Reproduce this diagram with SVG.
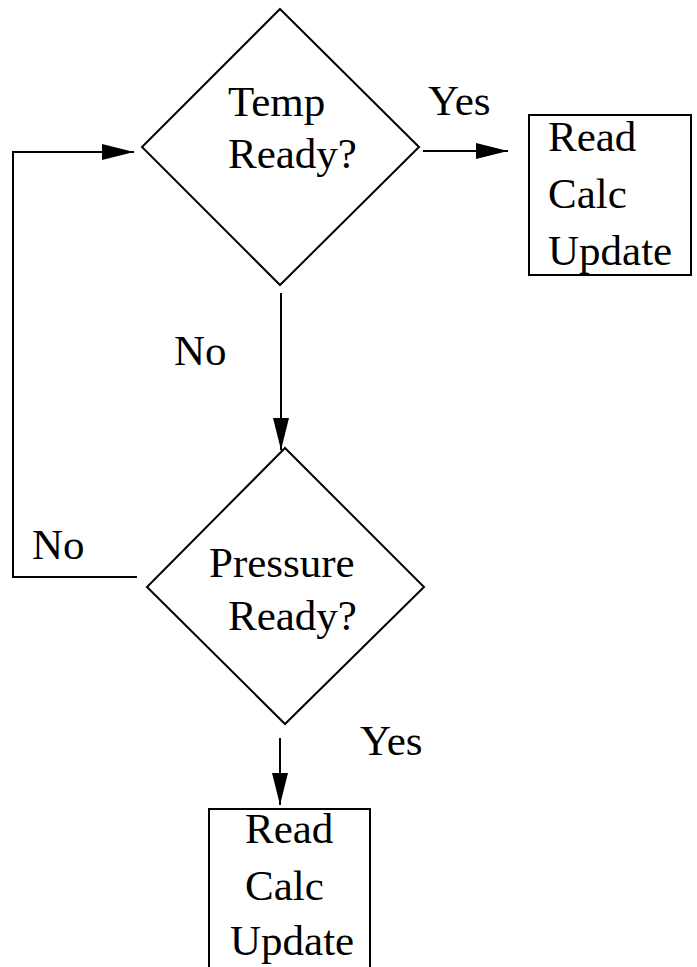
<svg xmlns="http://www.w3.org/2000/svg" width="697" height="967" viewBox="0 0 697 967">
<style>
.s{fill:none;stroke:#000;stroke-width:2}
.t{font-family:'Liberation Serif','Times New Roman',Times,serif;font-size:43px;fill:#000}
</style>
<defs>
<marker id="ah" markerWidth="32" markerHeight="16" refX="32" refY="8" orient="auto" markerUnits="userSpaceOnUse">
<path d="M0,0 L32,8 L0,16 z" fill="#000"/>
</marker>
</defs>
<rect width="697" height="967" fill="#fff"/>
<g id="temp">
<polygon class="s" points="280,9 419,147 280,285 142,147"/>
<text class="t" x="228" y="116">Temp</text>
<text class="t" x="228" y="168">Ready?</text>
</g>
<g id="action1">
<rect class="s" x="529" y="115" width="162" height="160"/>
<text class="t" x="548" y="151">Read</text>
<text class="t" x="548" y="208">Calc</text>
<text class="t" x="548" y="265">Update</text>
</g>
<g id="pressure">
<polygon class="s" points="285,448 424,587 285,724 147,587"/>
<text class="t" x="209" y="577">Pressure</text>
<text class="t" x="228" y="630">Ready?</text>
</g>
<g id="action2">
<rect class="s" x="209" y="809" width="161" height="170"/>
<text class="t" x="245" y="843">Read</text>
<text class="t" x="245" y="900">Calc</text>
<text class="t" x="230" y="955">Update</text>
</g>
<g id="connectors">
<line class="s" x1="423" y1="151" x2="508" y2="151" marker-end="url(#ah)"/>
<line class="s" x1="281" y1="293" x2="281" y2="450" marker-end="url(#ah)"/>
<polyline class="s" points="137,577 13,577 13,152 134,152" marker-end="url(#ah)"/>
<line class="s" x1="280" y1="738" x2="280" y2="805" marker-end="url(#ah)"/>
<text class="t" x="428" y="115">Yes</text>
<text class="t" x="174" y="365">No</text>
<text class="t" x="32" y="559">No</text>
<text class="t" x="360" y="755">Yes</text>
</g>
</svg>
